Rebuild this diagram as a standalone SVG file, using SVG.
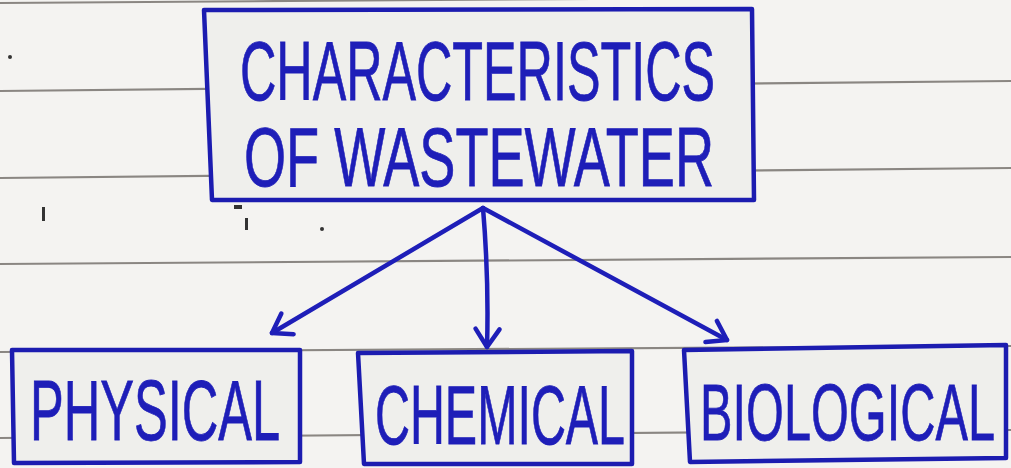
<svg xmlns="http://www.w3.org/2000/svg" width="1011" height="468" viewBox="0 0 1011 468">
<style>
.rule{stroke:#8a8682;stroke-width:2.2;fill:none}
.box{fill:#efefec;stroke:#1c1cb0;stroke-width:4.5;stroke-linejoin:round}
.lbl{font-family:"Liberation Sans",Arial,sans-serif;fill:#1e1eb8;stroke:#1e1eb8;stroke-width:0.8;font-weight:normal}
.conn{stroke:#1e1eb8;stroke-width:4.5;fill:none;stroke-linecap:round}
.mark{fill:#333}
</style>
<defs>
<marker id="ah" viewBox="-24 -16 28 32" refX="0" refY="0" markerWidth="28" markerHeight="32" markerUnits="userSpaceOnUse" orient="auto" overflow="visible">
<path d="M-18,-12 L0,0 L-18,12" fill="none" stroke="#1e1eb8" stroke-width="4.5" stroke-linecap="round" stroke-linejoin="round"/>
</marker>
</defs>
<rect width="1011" height="468" fill="#f4f3f1"/>
<g id="paper-lines">
<path class="rule" d="M0,3 L1011,-4"/>
<path class="rule" d="M0,91 L1011,81"/>
<path class="rule" d="M0,178 L1011,168"/>
<path class="rule" d="M0,264 L1011,257"/>
<path class="rule" d="M0,352 L1011,346"/>
<path class="rule" d="M0,438 L1011,430"/>
</g>
<g id="marks">
<circle class="mark" cx="10" cy="57" r="2"/>
<rect class="mark" x="42" y="207" width="3" height="14"/>
<rect class="mark" x="234" y="205" width="8" height="4"/>
<rect class="mark" x="245" y="218" width="3" height="12"/>
<circle class="mark" cx="322" cy="229" r="2"/>
</g>
<g id="connectors">
<path class="conn" d="M483,208 L272,333" marker-end="url(#ah)"/>
<path class="conn" d="M483,208 Q489,280 487,347" marker-end="url(#ah)"/>
<path class="conn" d="M483,208 L727,340" marker-end="url(#ah)"/>
</g>
<g id="node-main">
<path class="box" d="M204,10 L752,9 L754,200 L212,200 Z"/>
<text class="lbl" x="240" y="100" font-size="84" textLength="475" lengthAdjust="spacingAndGlyphs">CHARACTERISTICS</text>
<text class="lbl" x="244" y="186" font-size="84" textLength="470" lengthAdjust="spacingAndGlyphs">OF WASTEWATER</text>
</g>
<g id="node-physical">
<path class="box" d="M12,350 L300,350 L300,462 L14,463 Z"/>
<text class="lbl" x="30" y="440" font-size="86" textLength="250" lengthAdjust="spacingAndGlyphs">PHYSICAL</text>
</g>
<g id="node-chemical">
<path class="box" d="M358,353 L632,351 L632,464 L364,464 Z"/>
<text class="lbl" x="375" y="444" font-size="84" textLength="250" lengthAdjust="spacingAndGlyphs">CHEMICAL</text>
</g>
<g id="node-biological">
<path class="box" d="M684,350 L1006,345 L1006,458 L690,462 Z"/>
<text class="lbl" x="700" y="440" font-size="80" textLength="295" lengthAdjust="spacingAndGlyphs">BIOLOGICAL</text>
</g>
</svg>
